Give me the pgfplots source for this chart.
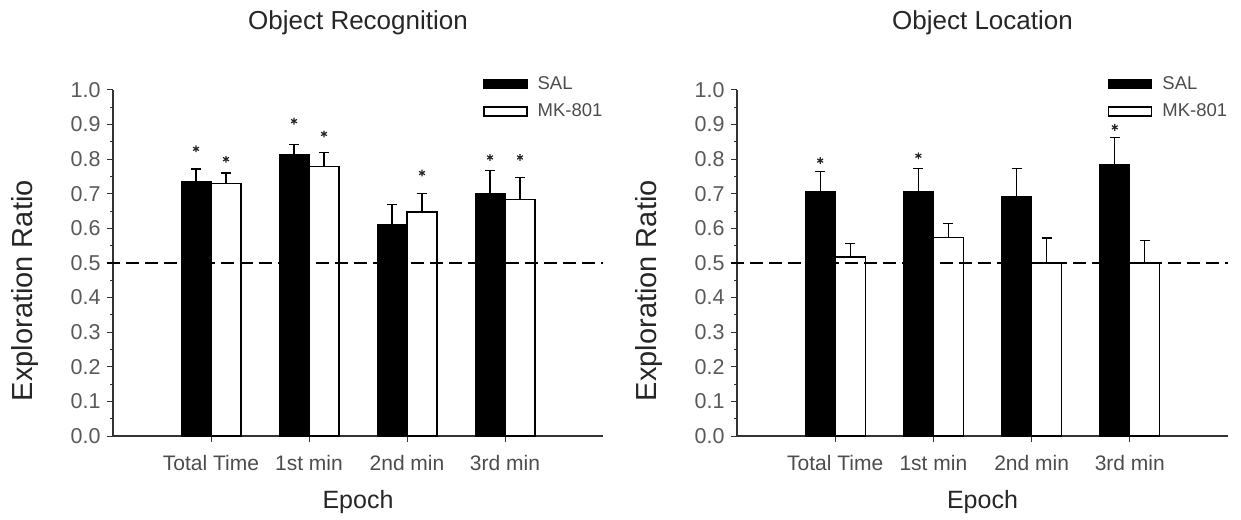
\documentclass[border=0pt]{standalone}
\usepackage{fontspec}
\setmainfont{Liberation Sans}
\usepackage{pgfplots}
\pgfplotsset{compat=1.18}
\usepackage{pgfplotstable}

% bar centres: group index -0.153 (SAL) and +0.153 (MK-801)
\pgfplotstableread{
x y e
-0.153 0.736 0.036
0.847 0.814 0.028
1.847 0.6125 0.057
2.847 0.700 0.067
}\leftsal
\pgfplotstableread{
x y e
0.153 0.729 0.031
1.153 0.779 0.040
2.153 0.647 0.053
3.153 0.683 0.065
}\leftmk
\pgfplotstableread{
x y
-0.153 0.830
0.153 0.800
0.847 0.910
1.153 0.873
2.153 0.760
2.847 0.805
3.153 0.805
}\leftstars
\pgfplotstableread{
x y e
-0.153 0.708 0.056
0.847 0.708 0.066
1.847 0.693 0.081
2.847 0.785 0.078
}\rightsal
\pgfplotstableread{
x y e
0.153 0.517 0.039
1.153 0.573 0.042
2.153 0.500 0.072
3.153 0.500 0.065
}\rightmk
\pgfplotstableread{
x y
-0.153 0.796
0.847 0.810
2.847 0.892
}\rightstars

\pgfplotsset{
  legimg/.style={legend image code/.code={\draw[line width=1.5pt,##1] (0pt,-4.5pt) rectangle (43pt,4.5pt);}},
  panel/.style={
    scale only axis, width=490pt, height=346pt,
    anchor=south west,
    xmin=-1, xmax=4, ymin=0, ymax=1.0,
    axis x line=bottom, axis y line=left,
    axis line style={-, line width=1.3pt, black!80},
    clip=false,
    xtick={0,1,2,3},
    xticklabels={Total Time,1st min,2nd min,3rd min},
    ytick={0,0.1,...,1.0},
    minor y tick num=1,
    tick align=outside,
    major tick length=6pt, minor tick length=3pt,
    tick style={line width=1pt, black!80},
    /pgf/number format/assume math mode=true,
    yticklabel style={/pgf/number format/.cd, fixed, fixed zerofill, precision=1, /tikz/.cd, font=\fontsize{21.5}{23}\selectfont, text=black!65, xshift=-3pt},
    xticklabel style={font=\fontsize{21}{23}\selectfont, text=black!70, yshift=-10pt},
    every axis y label/.style={at={(axis description cs:-0.18,0.42)}, rotate=90, anchor=center, font=\fontsize{29}{31}\selectfont, text=black!85},
    every axis x label/.style={at={(axis description cs:0.5,-0.192)}, anchor=center, font=\fontsize{25}{27}\selectfont, text=black!85},
    every axis title/.style={at={(axis description cs:0.5,1.194)}, anchor=center, font=\fontsize{26}{28}\selectfont, text=black!85},
    xlabel={Epoch}, ylabel={Exploration Ratio},
    legend style={at={(axis description cs:0.755,1.045)}, anchor=north west, draw=none, fill=none, inner sep=0pt,
      font=\fontsize{18.5}{20}\selectfont, text=black!70, row sep=9pt, nodes={inner sep=2pt},
      /tikz/every odd column/.append style={column sep=8pt}},
    legend cell align=left,
  },
  salbar/.style={ybar, bar width=30pt, bar shift=0pt, fill=black, draw=black, line width=1pt, legimg,
    error bars/.cd, y dir=plus, y explicit,
    error bar style={line width=1.3pt, black},
    error mark options={rotate=90, line width=1.3pt, mark size=5pt, black}},
  mkbar/.style={ybar, bar width=30pt, bar shift=0pt, fill=white, draw=black, line width=1.3pt, legimg,
    error bars/.cd, y dir=plus, y explicit,
    error bar style={line width=1.3pt, black},
    error mark options={rotate=90, line width=1.3pt, mark size=5pt, black}},
  starplot/.style={only marks, mark=asterisk, mark size=3.4pt, mark options={line width=1.2pt, black!85}, forget plot},
}

\begin{document}
\begin{tikzpicture}
\path[use as bounding box] (0,0) rectangle (1241pt,519pt);

\begin{axis}[panel, at={(113pt,83pt)}, title={Object Recognition}]
\addplot[salbar] table[x=x, y=y, y error=e] {\leftsal};
\addlegendentry{SAL}
\addplot[mkbar] table[x=x, y=y, y error=e] {\leftmk};
\addlegendentry{MK-801}
\addplot[forget plot, black, line width=2.3pt, dash pattern=on 13pt off 6pt] coordinates {(-1.06,0.5) (4,0.5)};
\addplot[starplot] table[x=x, y=y] {\leftstars};
\end{axis}

\begin{axis}[panel, at={(737pt,83pt)}, width=491pt, title={Object Location}]
\addplot[salbar] table[x=x, y=y, y error=e] {\rightsal};
\addlegendentry{SAL}
\addplot[mkbar] table[x=x, y=y, y error=e] {\rightmk};
\addlegendentry{MK-801}
\addplot[forget plot, black, line width=2.3pt, dash pattern=on 13pt off 6pt] coordinates {(-1.06,0.5) (4,0.5)};
\addplot[starplot] table[x=x, y=y] {\rightstars};
\end{axis}
\end{tikzpicture}
\end{document}
